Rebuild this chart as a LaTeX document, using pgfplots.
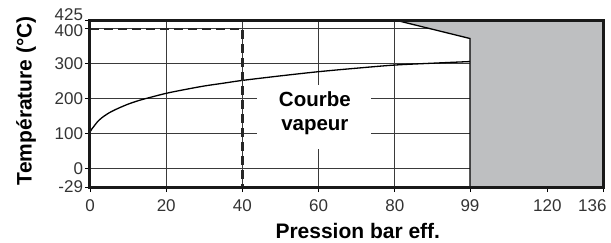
\documentclass[border=0pt]{standalone}
\usepackage{pgfplots}
\pgfplotsset{compat=1.18}
\usepackage{fontspec}
\setmainfont{Liberation Sans}
\definecolor{shade}{HTML}{BEBFC1}
\definecolor{gridc}{HTML}{3A3A3A}
\definecolor{tickc}{HTML}{333333}
\begin{document}
\begin{tikzpicture}
\begin{axis}[
  at={(0pt,0pt)}, anchor=south west,
  scale only axis, width=513pt, height=167pt,
  xmin=0, xmax=134.6, ymin=-53.4, ymax=425,
  xtick={0,20,40,60,80,99.7,120,134.6},
  xticklabels={0,20,40,60,80,99,120,\hspace{-21.4pt}136},
  ytick={-53.4,0,100,200,300,400,425},
  yticklabels={-29,0,100,200,300,\raisebox{-2pt}[\height][0pt]{400},\raisebox{5.5pt}[\height][0pt]{425}},
  grid=major,
  major grid style={gridc, line width=0.9pt},
  tick align=outside, xtick pos=bottom, ytick pos=left,
  major tick length=5pt,
  tick style={black, line width=0.9pt},
  /pgf/number format/assume math mode=true,
  tick label style={font=\fontsize{17}{17}\selectfont, text=tickc},
  xticklabel style={yshift=-4pt},
  yticklabel style={xshift=1.5pt},
  axis line style={draw=none},
  xlabel={\bfseries Pression bar eff.},
  ylabel={\bfseries Température (°C)},
  label style={font=\fontsize{21}{21}\selectfont},
  xlabel style={at={(axis description cs:0.522,0)}, anchor=base, yshift=-51pt},
  ylabel style={at={(axis description cs:-0.1137,0.518)}, anchor=base},
  clip=false,
]
% shaded forbidden zone
\addplot[fill=shade, draw=none] coordinates {(80,425) (99.7,372) (99.7,-53.4) (134.6,-53.4) (134.6,425)} -- cycle;
\addplot[black, line width=1.3pt] coordinates {(80,425) (99.7,372) (99.7,-53.4)};
% white label box
\fill[white] (axis cs:43.8,56) rectangle (axis cs:73.7,240);
% saturated steam curve
\addplot[black, line width=1.3pt, smooth] coordinates {
(0,104) (0.5,113) (1,120) (2,134) (3,144) (4,152) (5,159) (7,170) (10,184)
(13,195) (15,201) (20,215) (25,226) (30,236) (35,244) (40,252) (50,265)
(60,277) (70,287) (80,296) (90.4,301.5) (99.7,306)};
% dashed limits
\addplot[black!85, line width=2.2pt, dash pattern=on 9pt off 5pt] coordinates {(0,400) (40,400) (40,-53.4)};
\node[anchor=base, font=\fontsize{20.5}{20.5}\selectfont\bfseries] at (axis cs:59,178) {Courbe};
\node[anchor=base, font=\fontsize{20.5}{20.5}\selectfont\bfseries] at (axis cs:59,108) {vapeur};
% frame
\draw[black!90, line width=3pt] (rel axis cs:0,0) rectangle (rel axis cs:1,1);
\end{axis}
\pgfresetboundingbox
\path (-90pt,-55pt) rectangle (521pt,187pt);
\end{tikzpicture}
\end{document}
